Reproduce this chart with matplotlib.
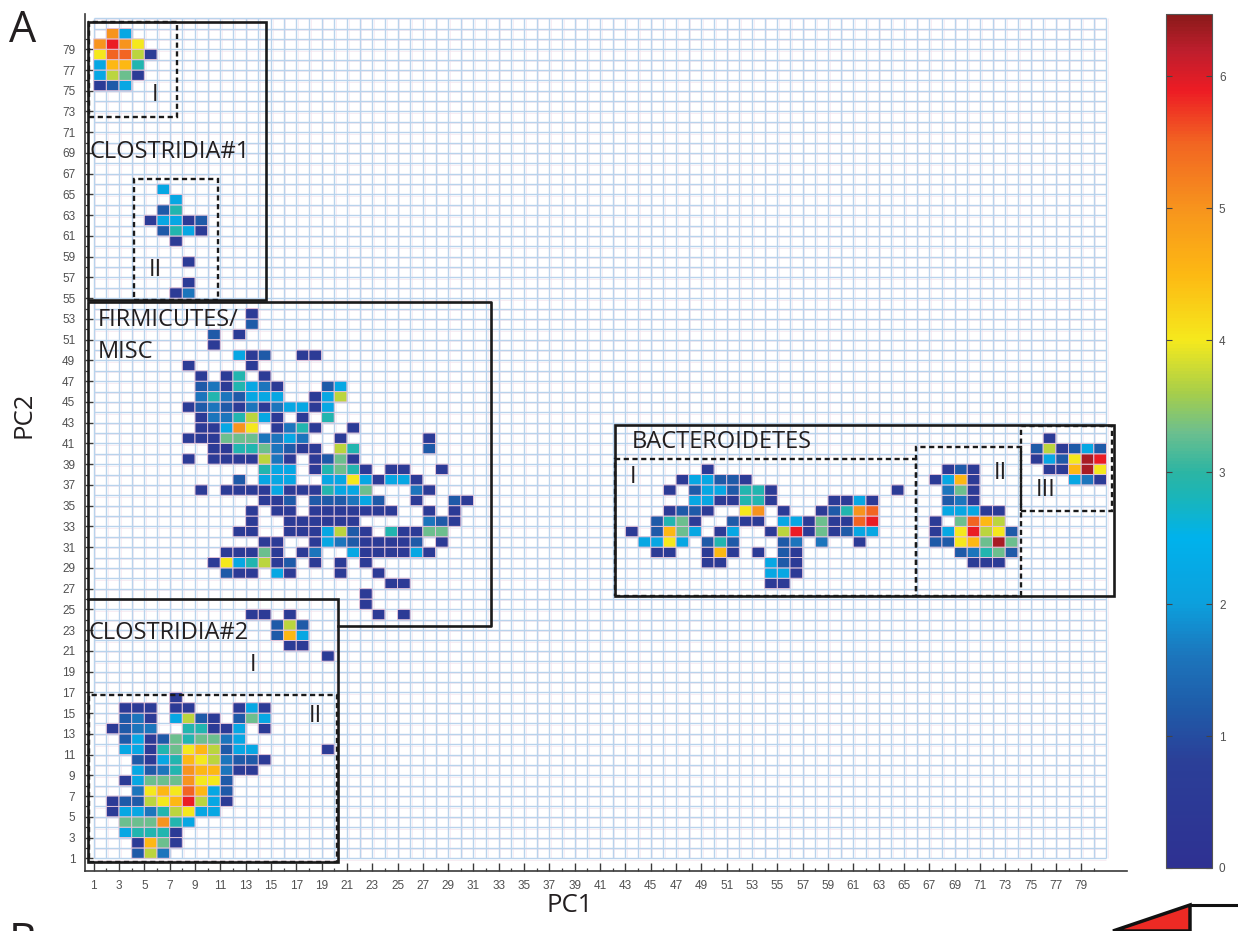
import numpy as np
import matplotlib
matplotlib.use("Agg")
import matplotlib.pyplot as plt
from matplotlib.colors import LinearSegmentedColormap
from matplotlib.patches import Rectangle, Polygon
from matplotlib.lines import Line2D

# ---------------- data ----------------
N_PC1 = 80          # PC1 bins
N_PC2 = 81          # PC2 bins
PC1_TICKS = list(range(1, 80, 2))
PC2_TICKS = list(range(1, 80, 2))
CBAR_TICKS = [0, 1, 2, 3, 4, 5, 6]
VMAX = 6.47

# abundance level read for each colour class
LEVELS = {'n': 0.6, 'm': 1.2, 'b': 1.6, 'c': 2.2, 't': 2.9, 'g': 3.3, 'l': 3.7,
          'y': 4.0, 'k': 4.5, 'o': 5.0, 'p': 5.5, 'r': 5.9, 'd': 6.3}

# each cluster: (first PC1 bin, top PC2 bin), rows listed from top to bottom
CLOS1_I_START = (1, 80)
CLOS1_I = [
    ".oc..",
    "oroy.",
    "yppln",
    "ckkt.",
    "clgn.",
    "nmc..",
]

CLOS1_II_START = (5, 65)
CLOS1_II = [
    ".c...",
    "..c..",
    ".mt..",
    "nccnm",
    ".mtcn",
    "..n..",
    ".....",
    "...n.",
    ".....",
    "...n.",
    "..nb.",
]

FIRM_START = (8, 53)
FIRM = [
    ".....n.................",
    ".....m.................",
    "..m.n..................",
    "..n....................",
    "....cnm..nn............",
    "n....n.................",
    ".n.nt.n................",
    ".mbntcbn...mc..........",
    ".btbmccc..ncl..........",
    "nmbmnbnbccnc...........",
    ".nbbtlcn.n.t...........",
    ".nncoy.nbtn..n.........",
    "nnngggbbcb..n......n...",
    "..nnttgbmnn.lt.....m...",
    "n.nnnnlbn.nmgn.........",
    "......tcc.ntgtn.nn..n..",
    "....m.ccc..ccycnccn....",
    ".n.nnnncnnntccg...bn...",
    "......nnm.mmmbcm..n..mn",
    ".....n.nn.nnnnnnn..n.n.",
    ".....n..nnnnnn.....bmn.",
    "....nn..nnnclmn.tnngg..",
    "......nn..ncbmnnnnm.n..",
    "...nnngn.nb..cnnnncn...",
    "..nyctlnm.n.n.n........",
    "...mnn.cn...n..n.......",
    "................nn.....",
    "..............n........",
    "..............n........",
    "...............n.n.....",
]

CLOS2_I_START = (13, 24)
CLOS2_I = [
    "nn.n...",
    "..mlm..",
    "..mkc..",
    "...nn..",
    "......n",
]

CLOS2_II_START = (2, 16)
CLOS2_II = [
    ".....n............",
    ".nnn.nn...ncn.....",
    ".mbn.clmn.mgc.....",
    "nmbb..ttnnc.n.....",
    ".mcnmgtggbc.......",
    ".ccntgyklmcc.....n",
    "..mnctkylbmmn.....",
    "..cmbtokkbnn......",
    ".ncgggoyym........",
    "..bykypkcm........",
    "nmmlykrlcn........",
    "nccbtlycc.........",
    ".gggotc...........",
    ".ctttn............",
    "..nkgn............",
    "..mlb.............",
]

BACT_I_START = (43, 38)
BACT_I = [
    "......n...............",
    "....nccmmn............",
    "...n.mccmttn.........n",
    ".....ccnnttn....nncn..",
    "...nmmn..yo.n..nmtop..",
    "..mtgn..mnn.ccngnnpr..",
    "n.mkgc.nc..nlrngnmcc..",
    ".ccyc.mtm...mb.b..n...",
    "..nn..nkn.n.mn........",
    "......nn...cmn........",
    "...........ccn........",
    "...........nn.........",
]

BACT_II_START = (67, 38)
BACT_II = [
    ".nmn...",
    "nckn...",
    ".bgn...",
    ".mbn...",
    ".cccnn.",
    "n.gpkl.",
    "ncyrlym",
    "mmykgdg",
    "..mbtgm",
    "...nnn.",
]

BACT_III_START = (75, 41)
BACT_III = [
    ".n....",
    "mlnmcm",
    "ncmydr",
    ".nnkdy",
    "...cbn",
]

CLUSTERS = [
    (CLOS1_I_START, CLOS1_I), (CLOS1_II_START, CLOS1_II),
    (FIRM_START, FIRM), (CLOS2_I_START, CLOS2_I), (CLOS2_II_START, CLOS2_II),
    (BACT_I_START, BACT_I), (BACT_II_START, BACT_II), (BACT_III_START, BACT_III),
]

# colour scale sampled along the colour bar
CMAP_STOPS = [
    (0.00, "#2e3192"), (0.80, "#2b3f98"), (1.20, "#1f5ba8"), (1.60, "#1c75bc"),
    (2.00, "#0ca0dd"), (2.50, "#00b2ec"), (2.80, "#19b5ba"), (3.00, "#2cb5a3"),
    (3.30, "#6cbf8e"), (3.60, "#a6ce4a"), (4.00, "#f5e91d"), (4.50, "#fdb913"),
    (5.00, "#f7941d"), (5.50, "#f26522"), (5.90, "#ed1c24"), (6.20, "#be1e2d"),
    (6.47, "#8b1a1a"),
]

# group outlines: (x0, y0, x1, y1) in bin units
SOLID_BOXES = [
    (0.55, 54.85, 14.61, 81.66),   # Clostridia #1
    (0.55, 0.65, 20.32, 25.97),    # Clostridia #2
    (42.18, 26.29, 81.60, 42.78),  # Bacteroidetes
]
FIRM_OUTLINE_X = [0.55, 0.55, 32.36, 32.36, 20.32]
FIRM_OUTLINE_Y = [25.97, 54.60, 54.60, 23.40, 23.40]
DASHED_BOXES = [
    (0.62, 72.44, 7.56, 81.66),
    (4.21, 54.85, 10.84, 66.50),
    (0.62, 0.65, 20.20, 16.74),
    (42.18, 26.29, 65.95, 39.47),
    (65.95, 26.29, 74.22, 40.63),
    (74.22, 34.51, 81.40, 42.70),
]
GROUP_LABELS = [
    ("CLOSTRIDIA#1", 0.70, 69.1),
    ("FIRMICUTES/", 1.30, 52.9),
    ("MISC", 1.30, 49.8),
    ("CLOSTRIDIA#2", 0.55, 22.7),
    ("BACTEROIDETES", 43.5, 41.1),
]
SUBGROUP_LABELS = [
    ("I", 5.85, 74.6), ("II", 5.85, 57.7),
    ("I", 13.6, 19.6), ("II", 18.5, 14.7),
    ("I", 43.6, 37.8), ("II", 72.6, 38.1), ("III", 76.2, 36.5),
]

# ---------------- figure ----------------
W, H = 1238, 931
fig = plt.figure(figsize=(W / 100, H / 100), dpi=100)
fig.patch.set_facecolor("white")

LABEL_FONT = ["Open Sans", "DejaVu Sans"]
TICK_FONT = ["Liberation Sans", "DejaVu Sans"]
INK = "#231f20"

ax = fig.add_axes([85 / W, (H - 870.7) / H, (1127 - 85) / W, (870.7 - 14) / H])
ax.set_xlim(0.3128, 82.62)
ax.set_ylim(-0.1955, 82.40)

# grid of bins
xe = np.arange(1, N_PC1 + 2)
ye = np.arange(1, N_PC2 + 2)
ax.vlines(xe, ye[0], ye[-1], color="#b9d3ec", lw=1.0, zorder=1)
ax.hlines(ye, xe[0], xe[-1], color="#b9d3ec", lw=1.0, zorder=1)
ax.vlines(xe + 0.13, ye[0], ye[-1], color="#f5e6ee", lw=0.5, zorder=0.9)
ax.hlines(ye - 0.13, xe[0], xe[-1], color="#f5e6ee", lw=0.5, zorder=0.9)

# fill abundance matrix
Z = np.full((N_PC2, N_PC1), np.nan)
for (i0, jtop), rows in CLUSTERS:
    for r, row in enumerate(rows):
        j = jtop - r
        for c, ch in enumerate(row):
            if ch != ".":
                Z[j - 1, i0 - 1 + c] = LEVELS[ch]

cmap = LinearSegmentedColormap.from_list(
    "abund", [(v / VMAX, col) for v, col in CMAP_STOPS])
# pcolor leaves empty (masked) bins out entirely
mesh = ax.pcolor(xe, ye, np.ma.masked_invalid(Z), cmap=cmap, vmin=0, vmax=VMAX,
                 edgecolors="#e2c3d8", linewidth=0.7, zorder=2)

# outlines
for x0, y0, x1, y1 in SOLID_BOXES:
    ax.add_patch(Rectangle((x0, y0), x1 - x0, y1 - y0, fill=False, ec="#1a1a1a",
                           lw=1.9, zorder=4))
ax.add_line(Line2D(FIRM_OUTLINE_X, FIRM_OUTLINE_Y, color="#1a1a1a", lw=1.9, zorder=4))
for x0, y0, x1, y1 in DASHED_BOXES:
    ax.add_patch(Rectangle((x0, y0), x1 - x0, y1 - y0, fill=False, ec="#1a1a1a",
                           lw=1.7, ls=(0, (2.2, 1.5)), zorder=4))

for txt, x, y in GROUP_LABELS:
    ax.text(x, y, txt, fontsize=17, family=LABEL_FONT, color=INK,
            ha="left", va="center", zorder=5)
for txt, x, y in SUBGROUP_LABELS:
    ax.text(x, y, txt, fontsize=17, family=LABEL_FONT, color=INK,
            ha="center", va="center", zorder=5)

# axes styling
for s in ("top", "right"):
    ax.spines[s].set_visible(False)
for s in ("left", "bottom"):
    ax.spines[s].set_color("#3a3a3a")
    ax.spines[s].set_linewidth(1.2)
ax.set_xticks(PC1_TICKS)
ax.set_xticks(list(range(2, 81, 2)), minor=True)
ax.set_yticks(PC2_TICKS)
ax.set_yticks(list(range(2, 81, 2)), minor=True)
ax.set_xticklabels([str(v) for v in PC1_TICKS])
ax.set_yticklabels([str(v) for v in PC2_TICKS])
ax.tick_params(which="major", direction="in", length=5.5, width=1.0, color="#3a3a3a",
               labelsize=8.5, labelcolor="#505050")
ax.tick_params(which="minor", direction="in", length=2.5, width=0.9, color="#3a3a3a")
ax.tick_params(axis="x", which="major", pad=7)
ax.tick_params(axis="y", which="major", pad=7)
for lab in ax.get_xticklabels() + ax.get_yticklabels():
    lab.set_family(TICK_FONT)

fig.text(570 / W, 1 - 905 / H, "PC1", fontsize=18.5, family=LABEL_FONT, color=INK,
         ha="center", va="center")
fig.text(24 / W, 1 - 415 / H, "PC2", fontsize=18.5, family=LABEL_FONT, color=INK,
         ha="center", va="center", rotation=90)
fig.text(9 / W, 1 - 8 / H, "A", fontsize=31, family=LABEL_FONT, color=INK,
         ha="left", va="top")
fig.text(9 / W, 1 - 920 / H, "B", fontsize=31, family=LABEL_FONT, color=INK,
         ha="left", va="top")

# colour bar
cax = fig.add_axes([1166 / W, (H - 868) / H, (1212 - 1166) / W, (868 - 14) / H])
cb = fig.colorbar(mesh, cax=cax, ticks=CBAR_TICKS)
cb.outline.set_edgecolor("#555555")
cb.outline.set_linewidth(0.8)
cax.tick_params(direction="in", length=4, width=0.8, color="#444444", left=True,
                right=True, labelsize=8.5, labelcolor="#505050", pad=5)
for lab in cax.get_yticklabels():
    lab.set_family(TICK_FONT)

# corner of the next panel
fig.patches.append(Polygon([[1113 / W, 0], [1190 / W, 1 - 905 / H], [1190 / W, 0]],
                           closed=True, transform=fig.transFigure, fc="#ed2a24",
                           ec="#111111", lw=2.5))
fig.lines.append(Line2D([1190 / W, 1.0], [1 - 905 / H, 1 - 905 / H],
                        transform=fig.transFigure, color="#111111", lw=2.2))

fig.savefig("out.png", dpi=100)
